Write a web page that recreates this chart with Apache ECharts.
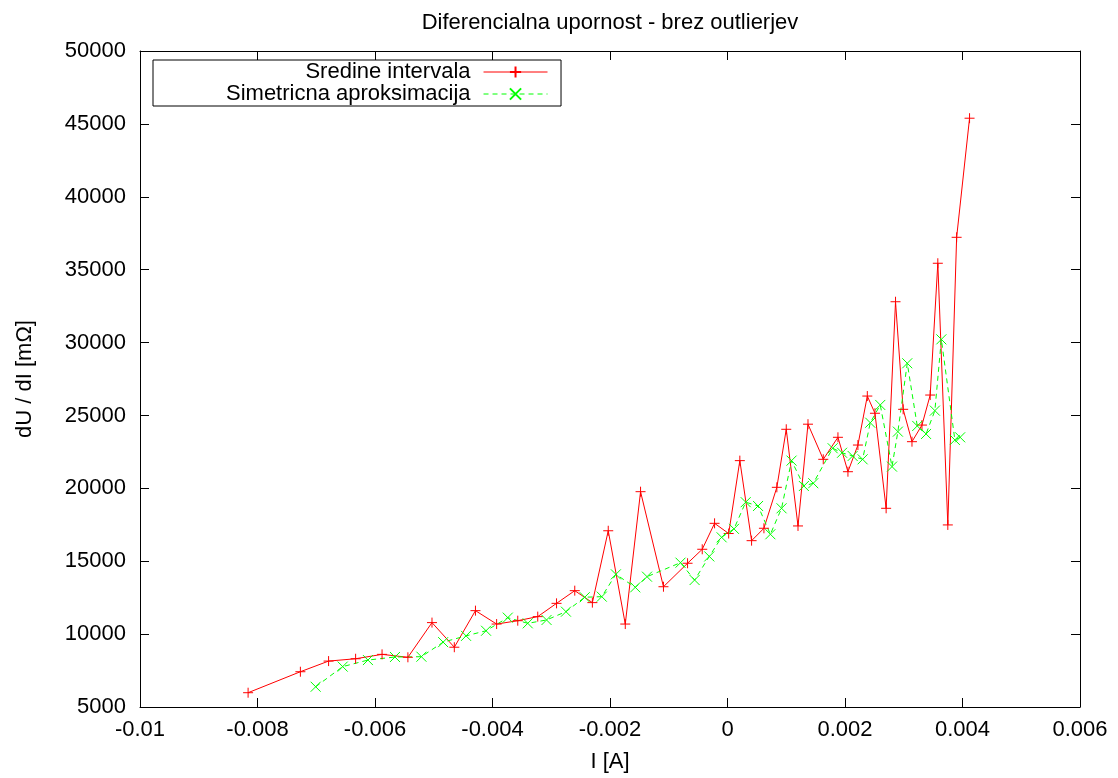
<!DOCTYPE html>
<html>
<head>
<meta charset="utf-8">
<script src="https://cdn.jsdelivr.net/npm/echarts@6/dist/echarts.min.js"></script>
<style>
  html, body { margin: 0; padding: 0; background: #fff; }
  #chart { width: 1118px; height: 778px; }
</style>
</head>
<body>
<div id="chart"></div>
<script>
// I [A] and dU/dI [mOhm]
const srediniX = [-0.00816, -0.00727, -0.00679, -0.00633, -0.00588, -0.00544, -0.00503, -0.00465, -0.00429, -0.00393,
  -0.00357, -0.00323, -0.00291, -0.00260, -0.00230, -0.00203, -0.00174, -0.00148, -0.00109, -0.00068,
  -0.00043, -0.00022, 0.00002, 0.00021, 0.00041, 0.00062, 0.00084, 0.00100, 0.00120, 0.00137,
  0.00163, 0.00188, 0.00205, 0.00222, 0.00238, 0.00251, 0.00270, 0.00286, 0.00299, 0.00314,
  0.00331, 0.00345, 0.00358, 0.00375, 0.00390, 0.00412];
const srediniY = [5980, 7420, 8150, 8310, 8610, 8410, 10790, 9100, 11610, 10690,
  10920, 11200, 12110, 12980, 12160, 17090, 10690, 19770, 13250, 14860,
  15820, 17600, 16900, 21900, 16410, 17260, 20070, 24050, 17420, 24400,
  21990, 23500, 21140, 22970, 26330, 25150, 18630, 32800, 25420, 23200,
  24340, 26400, 35440, 17490, 37220, 45390];

const simetricnaX = [-0.00701, -0.00655, -0.00612, -0.00566, -0.00521, -0.00484, -0.00445, -0.00411, -0.00374, -0.00340,
  -0.00308, -0.00275, -0.00243, -0.00214, -0.00190, -0.00157, -0.00137, -0.00080, -0.00056, -0.00031,
  -0.00010, 0.00011, 0.00031, 0.00052, 0.00073, 0.00092, 0.00109, 0.00130, 0.00146, 0.00179,
  0.00195, 0.00213, 0.00230, 0.00243, 0.00260, 0.00280, 0.00290, 0.00306, 0.00323, 0.00338,
  0.00353, 0.00364, 0.00387, 0.00396];
const simetricnaY = [6390, 7770, 8220, 8430, 8450, 9450, 9880, 10230, 11130, 10740,
  10970, 11540, 12530, 12570, 14100, 13210, 13940, 14900, 13710, 15330,
  16640, 17220, 19050, 18790, 16850, 18630, 21900, 20160, 20350, 22750,
  22440, 22220, 21990, 24500, 25720, 21490, 23890, 28580, 24280, 23730,
  25330, 30220, 23320, 23500];

const font = '"Liberation Sans", Arial, Helvetica, sans-serif';
const fs = 22;
const plusSymbol = 'path://M5,0L5,10M0,5L10,5';
const crossSymbol = 'path://M0,0L10,10M10,0L0,10';

const chart = echarts.init(document.getElementById('chart'));

const tickStyle = { inside: true, length: 9, lineStyle: { color: '#000', width: 1 } };
const axisLineStyle = { show: true, onZero: false, lineStyle: { color: '#000', width: 1 } };

const xBase = {
  type: 'value', min: -0.01, max: 0.006, interval: 0.002,
  axisLine: axisLineStyle, axisTick: tickStyle, splitLine: { show: false }
};
const yBase = {
  type: 'value', min: 5000, max: 50000, interval: 5000,
  axisLine: axisLineStyle, axisTick: tickStyle, splitLine: { show: false }
};

chart.setOption({
  animation: false,
  backgroundColor: '#fff',
  title: {
    text: 'Diferencialna upornost - brez outlierjev',
    left: 605, top: 7, textAlign: 'center',
    textStyle: { fontFamily: font, fontSize: fs, fontWeight: 'normal', color: '#000' }
  },
  grid: { left: 140, right: 38, top: 51, bottom: 71 },
  legend: {
    orient: 'vertical', align: 'right',
    left: 153, top: 60,
    padding: [1, 13, 1, 73],
    itemWidth: 64, itemHeight: 14, itemGap: 0,
    borderColor: '#000', borderWidth: 1,
    lineStyle: { width: 1 },
    textStyle: { fontFamily: font, fontSize: fs, color: '#000', lineHeight: 21, padding: [0, 8, 0, 0] },
    data: ['Sredine intervala', 'Simetricna aproksimacija']
  },
  xAxis: [
    Object.assign({}, xBase, {
      position: 'bottom',
      name: 'I [A]', nameLocation: 'middle', nameGap: 44,
      nameTextStyle: { fontFamily: font, fontSize: fs, color: '#000' },
      axisLabel: { margin: 12, fontFamily: font, fontSize: fs, color: '#000',
        formatter: v => String(Math.round(v * 1000) / 1000) }
    }),
    Object.assign({}, xBase, { position: 'top', axisLabel: { show: false } })
  ],
  yAxis: [
    Object.assign({}, yBase, {
      position: 'left',
      name: 'dU / dI [mΩ]', nameLocation: 'middle', nameGap: 104, nameRotate: 90,
      nameTextStyle: { fontFamily: font, fontSize: fs, color: '#000' },
      axisLabel: { margin: 14, fontFamily: font, fontSize: fs, color: '#000', formatter: v => String(v) }
    }),
    Object.assign({}, yBase, { position: 'right', axisLabel: { show: false } })
  ],
  series: [
    {
      name: 'Sredine intervala', type: 'line',
      data: srediniX.map((x, i) => [x, srediniY[i]]),
      symbol: plusSymbol, symbolSize: 10, showSymbol: true,
      lineStyle: { color: '#ff0000', width: 1 },
      itemStyle: { color: '#ff0000', borderColor: '#ff0000', borderWidth: 1 }
    },
    {
      name: 'Simetricna aproksimacija', type: 'line',
      data: simetricnaX.map((x, i) => [x, simetricnaY[i]]),
      symbol: crossSymbol, symbolSize: 10, showSymbol: true,
      lineStyle: { color: '#00ff00', width: 1, type: [5, 4] },
      itemStyle: { color: '#00ff00', borderColor: '#00ff00', borderWidth: 1 }
    }
  ]
});
</script>
</body>
</html>
